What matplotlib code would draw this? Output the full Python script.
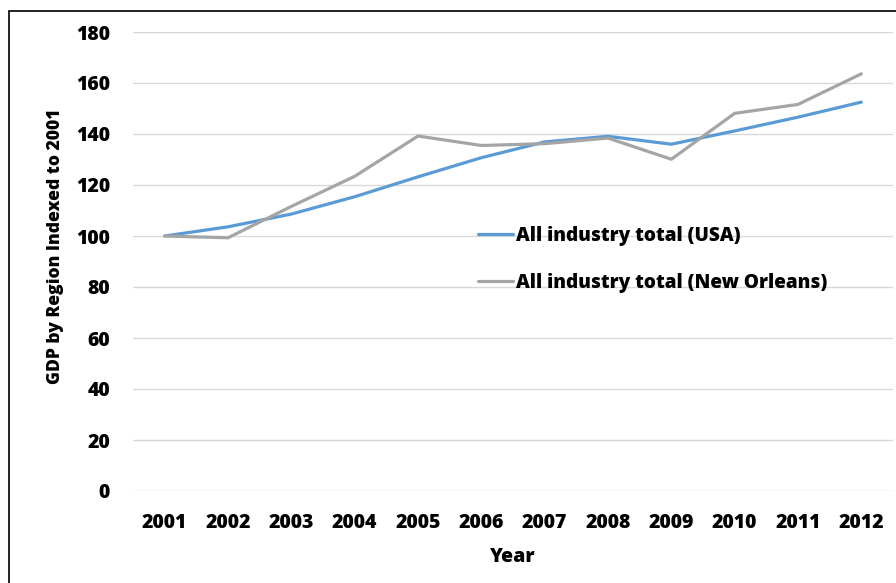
import matplotlib
matplotlib.use("Agg")
import matplotlib.pyplot as plt
from matplotlib.patches import Rectangle

years = ["2001", "2002", "2003", "2004", "2005", "2006",
         "2007", "2008", "2009", "2010", "2011", "2012"]
usa = [100.0, 103.6, 108.6, 115.4, 123.2, 130.7,
       136.9, 139.1, 136.0, 141.2, 146.6, 152.5]
new_orleans = [100.0, 99.3, 111.6, 123.4, 139.2, 135.5,
               136.2, 138.4, 130.1, 148.1, 151.6, 163.6]
y_ticks = [0, 20, 40, 60, 80, 100, 120, 140, 160, 180]

WEIGHT = 800
plt.rcParams["font.family"] = ["Open Sans", "DejaVu Sans"]
plt.rcParams["font.weight"] = WEIGHT
FS = 14.0

W, H = 896, 583
fig = plt.figure(figsize=(W / 100, H / 100), dpi=100)
ax = fig.add_axes([133 / W, 1 - 491 / H, (893 - 133) / W, (491 - 32) / H])

x = list(range(len(years)))
ax.plot(x, usa, color="#5B9BD5", lw=2.3, solid_capstyle="round",
        label="All industry total (USA)", zorder=3)
ax.plot(x, new_orleans, color="#A5A5A5", lw=2.3, solid_capstyle="round",
        label="All industry total (New Orleans)", zorder=3)

ax.set_xlim(-0.5, len(years) - 0.5)
ax.set_ylim(0, 180)
ax.set_yticks(y_ticks)
ax.set_xticks(x)
ax.set_xticklabels(years)
ax.grid(axis="y", color="#D9D9D9", lw=1.0)
ax.set_axisbelow(True)
for s in ax.spines.values():
    s.set_visible(False)
ax.tick_params(axis="both", length=0, labelsize=FS)
ax.tick_params(axis="y", pad=16.5)
ax.tick_params(axis="x", pad=15.5)

ax.set_xlabel("Year", fontsize=FS, fontweight=WEIGHT, va="center")
ax.xaxis.set_label_coords(0.5, -(557 - 491) / 459)
ax.set_ylabel("GDP by Region Indexed to 2001", fontsize=12.6,
              fontweight=WEIGHT, va="center")
ax.yaxis.set_label_coords((56 - 133) / 760, (491 - 246.5) / 459)

leg = fig.legend(loc="upper left", bbox_to_anchor=(468 / W, 1 - 216 / H),
                 frameon=False, fontsize=13.7, handlelength=1.85,
                 handletextpad=0.15, labelspacing=1.42, borderpad=0)

fig.patches.append(Rectangle((9 / W, -0.02), 1.1, 1 - 11 / H + 0.02,
                             transform=fig.transFigure, fill=False,
                             edgecolor="black", lw=1.2))

fig.savefig("out.png", dpi=100)
